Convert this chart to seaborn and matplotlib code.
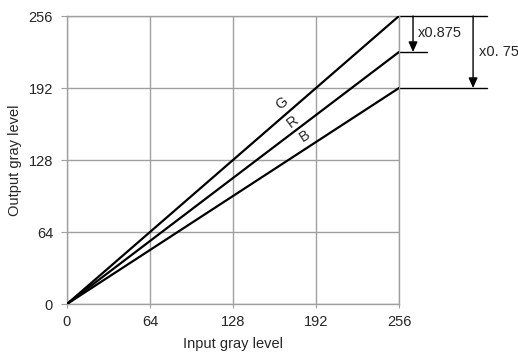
import numpy as np
import pandas as pd
import seaborn as sns
import matplotlib.pyplot as plt

# Dados das curvas de ganho
entrada = [0, 256]
saida_g = [0, 256]
saida_r = [0, 224]
saida_b = [0, 192]
ticks = [0, 64, 128, 192, 256]

sns.set_style("white")
plt.rcParams['font.family'] = ['Liberation Sans', 'DejaVu Sans']
fs = 10.5

fig = plt.figure(figsize=(5.18, 3.54), dpi=100)
ax = fig.add_axes([0.1293, 0.1412, 0.6410, 0.8136])

dados = pd.DataFrame({
    'entrada': entrada * 3,
    'saida': saida_g + saida_r + saida_b,
    'canal': ['G'] * 2 + ['R'] * 2 + ['B'] * 2,
})
sns.lineplot(data=dados, x='entrada', y='saida', units='canal', estimator=None,
             color='black', linewidth=1.6, ax=ax, zorder=3)

ax.set_xlim(0, 256)
ax.set_ylim(0, 256)
ax.set_xticks(ticks)
ax.set_yticks(ticks)
ax.grid(True, color='#a0a0a0', linewidth=1.0)
for s in ax.spines.values():
    s.set_color('#a0a0a0')
    s.set_linewidth(1.0)
ax.tick_params(axis='y', length=4, color='#a0a0a0', labelsize=fs, pad=6, direction='out', left=True)
ax.tick_params(axis='x', length=3, color='#a0a0a0', labelsize=fs, pad=5, direction='out', bottom=True)
ax.set_xlabel('Input gray level', fontsize=fs, labelpad=6)
ax.set_ylabel('Output gray level', fontsize=fs, labelpad=5)

# Rótulos das curvas
ax.text(165.6, 178.4, 'G', rotation=41, ha='center', va='center', fontsize=fs)
ax.text(174.2, 162.4, 'R', rotation=37, ha='center', va='center', fontsize=fs)
ax.text(183.5, 149.6, 'B', rotation=33, ha='center', va='center', fontsize=fs)

# Anotações de ganho fora do eixo
ax.plot([256, 324], [256, 256], color='black', lw=1.0, clip_on=False)
ax.plot([256, 324], [192, 192], color='black', lw=1.0, clip_on=False)
ax.plot([256, 277.6], [224, 224], color='black', lw=1.0, clip_on=False)
seta = dict(arrowstyle='-|>,head_length=0.6,head_width=0.27', color='black', lw=1.0,
            mutation_scale=10, shrinkA=0, shrinkB=0)
ax.annotate('', xy=(266.8, 224), xytext=(266.8, 256), annotation_clip=False, arrowprops=seta)
ax.annotate('', xy=(313.1, 192), xytext=(313.1, 256), annotation_clip=False, arrowprops=seta)
ax.text(270.2, 241, 'x0.875', ha='left', va='center', fontsize=fs)
ax.text(318.0, 224, 'x0. 75', ha='left', va='center', fontsize=fs)

fig.savefig('out.png', dpi=100)
